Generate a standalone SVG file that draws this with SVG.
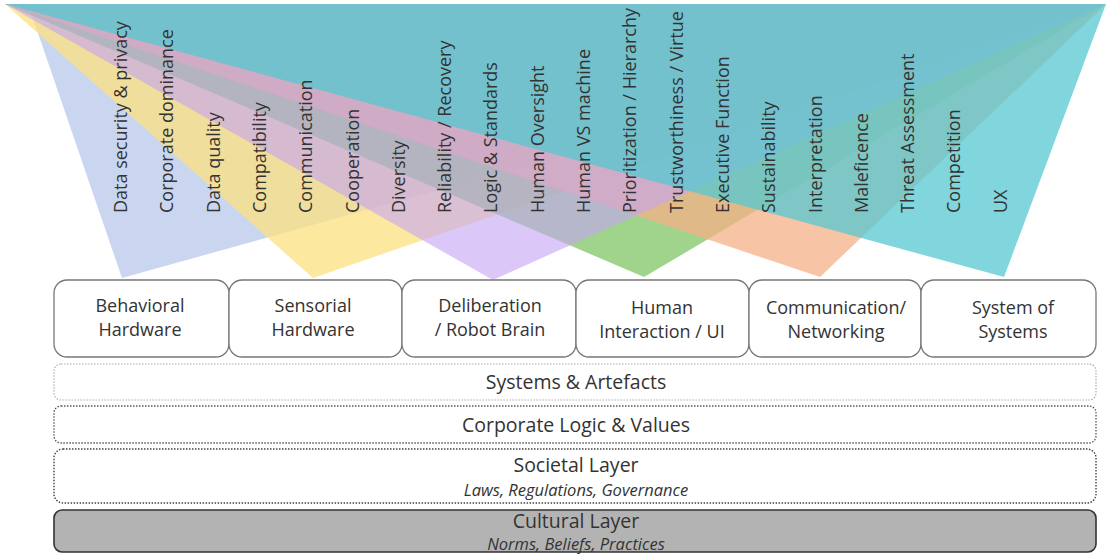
<svg xmlns="http://www.w3.org/2000/svg" width="1109" height="556" viewBox="0 0 1109 556">
<style>
.tri{stroke:none}
.lbl{font-family:"Open Sans","Liberation Sans",sans-serif;font-size:18px;fill:#333}
.box{fill:#fff;stroke:#777;stroke-width:1.3}
.bt{font-family:"Open Sans","Liberation Sans",sans-serif;font-size:18px;fill:#333;text-anchor:middle}
.lt{font-family:"Open Sans","Liberation Sans",sans-serif;font-size:19.5px;fill:#333;text-anchor:middle}
.it{font-family:"Open Sans","Liberation Sans",sans-serif;font-size:16.5px;font-style:italic;fill:#333;text-anchor:middle}
</style>
<rect width="1109" height="556" fill="#fff"/>
<g id="fans">
<polygon class="tri" fill="#b8c8eb" fill-opacity="0.75" points="28,4 122,278 1106,4"/>
<polygon class="tri" fill="#fce080" fill-opacity="0.75" points="5,4 313,278 1106,4"/>
<polygon class="tri" fill="#80c666" fill-opacity="0.75" points="5,4 644,277 1106,4"/>
<polygon class="tri" fill="#f6b088" fill-opacity="0.75" points="5,4 820,277 1106,4"/>
<polygon class="tri" fill="#c5a3f3" fill-opacity="0.6" points="5,4 493,280 1106,4"/>
<polygon class="tri" fill="#56c8d0" fill-opacity="0.75" points="5,4 1004,277 1106,4"/>
</g>
<g id="labels">
<text class="lbl" transform="translate(127,213) rotate(-90)">Data security &amp; privacy</text>
<text class="lbl" transform="translate(173.3,213) rotate(-90)">Corporate dominance</text>
<text class="lbl" transform="translate(219.6,213) rotate(-90)">Data quality</text>
<text class="lbl" transform="translate(265.9,213) rotate(-90)">Compatibility</text>
<text class="lbl" transform="translate(312.2,213) rotate(-90)">Communication</text>
<text class="lbl" transform="translate(358.5,213) rotate(-90)">Cooperation</text>
<text class="lbl" transform="translate(404.8,213) rotate(-90)">Diversity</text>
<text class="lbl" transform="translate(451.1,213) rotate(-90)">Reliability / Recovery</text>
<text class="lbl" transform="translate(497.4,213) rotate(-90)">Logic &amp; Standards</text>
<text class="lbl" transform="translate(543.7,213) rotate(-90)">Human Oversight</text>
<text class="lbl" transform="translate(590,213) rotate(-90)">Human VS machine</text>
<text class="lbl" transform="translate(636.3,213) rotate(-90)">Prioritization / Hierarchy</text>
<text class="lbl" transform="translate(682.6,213) rotate(-90)">Trustworthiness / Virtue</text>
<text class="lbl" transform="translate(728.9,213) rotate(-90)">Executive Function</text>
<text class="lbl" transform="translate(775.2,213) rotate(-90)">Sustainability</text>
<text class="lbl" transform="translate(821.5,213) rotate(-90)">Interpretation</text>
<text class="lbl" transform="translate(867.8,213) rotate(-90)">Maleficence</text>
<text class="lbl" transform="translate(914.1,213) rotate(-90)">Threat Assessment</text>
<text class="lbl" transform="translate(960.4,213) rotate(-90)">Competition</text>
<text class="lbl" transform="translate(1006.7,213) rotate(-90)">UX</text>
</g>
<g id="box1"><rect class="box" x="54" y="280" width="175" height="77" rx="13"/><text class="bt" x="140" y="312">Behavioral</text><text class="bt" x="140" y="336">Hardware</text></g>
<g id="box2"><rect class="box" x="229" y="280" width="173" height="77" rx="13"/><text class="bt" x="313" y="312">Sensorial</text><text class="bt" x="313" y="336">Hardware</text></g>
<g id="box3"><rect class="box" x="402" y="280" width="174" height="77" rx="13"/><text class="bt" x="490" y="312">Deliberation</text><text class="bt" x="490" y="336">/ Robot Brain</text></g>
<g id="box4"><rect class="box" x="576" y="280" width="173" height="77" rx="13"/><text class="bt" x="662" y="314">Human</text><text class="bt" x="662" y="338">Interaction / UI</text></g>
<g id="box5"><rect class="box" x="749" y="280" width="172" height="77" rx="13"/><text class="bt" x="836" y="314">Communication/</text><text class="bt" x="836" y="338">Networking</text></g>
<g id="box6"><rect class="box" x="921" y="280" width="175" height="77" rx="13"/><text class="bt" x="1013" y="314">System of</text><text class="bt" x="1013" y="338">Systems</text></g>
<g id="layer-systems"><rect x="54" y="364" width="1042" height="36" rx="7" fill="#fff" stroke="#aaa" stroke-width="1.2" stroke-dasharray="1.5 1.5"/><text class="lt" x="576" y="389">Systems &amp; Artefacts</text></g>
<g id="layer-corporate"><rect x="54" y="406" width="1042" height="37" rx="7" fill="#fff" stroke="#555" stroke-width="1.3" stroke-dasharray="1.5 1.5"/><text class="lt" x="576" y="432">Corporate Logic &amp; Values</text></g>
<g id="layer-societal"><rect x="54" y="449" width="1042" height="54" rx="9" fill="#fff" stroke="#444" stroke-width="1.4" stroke-dasharray="1.5 1.5"/><text class="lt" x="576" y="472">Societal Layer</text><text class="it" x="576" y="496">Laws, Regulations, Governance</text></g>
<g id="layer-cultural"><rect x="54" y="510" width="1042" height="42" rx="8" fill="#b3b3b3" stroke="#333" stroke-width="1.6"/><text class="lt" x="576" y="528">Cultural Layer</text><text class="it" x="576" y="550">Norms, Beliefs, Practices</text></g>
</svg>
